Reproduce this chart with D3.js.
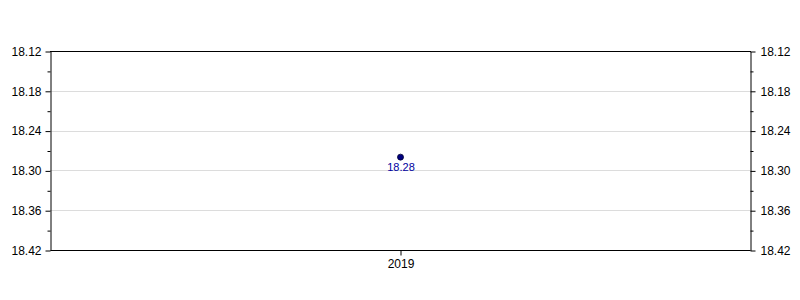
<!DOCTYPE html>
<html>
<head>
<meta charset="utf-8">
<script src="https://cdn.jsdelivr.net/npm/d3@7"></script>
<style>
  body { margin: 0; background: #fff; }
  svg text { font-family: "Liberation Sans", Arial, sans-serif; }
</style>
</head>
<body>
<div id="chart"></div>
<script>
const years = ["2019"];
const values = [18.28];
const yTicks = [18.12, 18.18, 18.24, 18.30, 18.36, 18.42];
const yMinorTicks = [18.15, 18.21, 18.27, 18.33, 18.39];

const W = 800, H = 300;
const m = { top: 51, right: 50, bottom: 50, left: 50 };

const svg = d3.select("#chart").append("svg").attr("width", W).attr("height", H);

const x = d3.scalePoint().domain(years).range([m.left, W - m.right]).padding(0.5);
const y = d3.scaleLinear().domain([18.12, 18.42]).range([m.top, H - m.bottom]);

// grid
svg.append("g").selectAll("line").data(yTicks.slice(1, -1)).enter().append("line")
  .attr("x1", m.left).attr("x2", W - m.right)
  .attr("y1", (d) => Math.round(y(d)) + 0.5).attr("y2", (d) => Math.round(y(d)) + 0.5)
  .attr("stroke", "#dcdcdc").attr("stroke-width", 1);

function styleAxis(g) {
  g.selectAll("path, line").attr("stroke", "#000");
  g.selectAll("text").attr("font-size", 12).attr("fill", "#000");
}

const fmt = d3.format(".2f");
// left axis
svg.append("g").attr("transform", `translate(${m.left + 0.5},0.5)`)
  .call(d3.axisLeft(y).tickValues(yTicks).tickFormat(fmt).tickSize(5).tickSizeOuter(0).tickPadding(4))
  .call(styleAxis);
svg.append("g").attr("transform", `translate(${m.left + 0.5},0.5)`)
  .call(d3.axisLeft(y).tickValues(yMinorTicks).tickFormat("").tickSize(3).tickSizeOuter(0))
  .call((g) => g.select(".domain").remove()).call(styleAxis);
// right axis
svg.append("g").attr("transform", `translate(${W - m.right + 0.5},0.5)`)
  .call(d3.axisRight(y).tickValues(yTicks).tickFormat(fmt).tickSize(5).tickSizeOuter(0).tickPadding(5))
  .call(styleAxis);
svg.append("g").attr("transform", `translate(${W - m.right + 0.5},0.5)`)
  .call(d3.axisRight(y).tickValues(yMinorTicks).tickFormat("").tickSize(3).tickSizeOuter(0))
  .call((g) => g.select(".domain").remove()).call(styleAxis);
// bottom axis
svg.append("g").attr("transform", `translate(0.5,${H - m.bottom + 0.5})`)
  .call(d3.axisBottom(x).tickSize(5).tickSizeOuter(0).tickPadding(4))
  .call((g) => g.select(".domain").attr("d", `M${m.left},0H${W - m.right}`))
  .call(styleAxis);
// top border
svg.append("line").attr("x1", m.left).attr("x2", W - m.right + 1)
  .attr("y1", m.top + 0.5).attr("y2", m.top + 0.5).attr("stroke", "#000");

// points
svg.append("g").selectAll("circle").data(values).enter().append("circle")
  .attr("cx", (d, i) => x(years[i]) + 0.5).attr("cy", (d) => y(d))
  .attr("r", 3).attr("fill", "#000080").attr("stroke", "#000033").attr("stroke-width", 0.8);
svg.append("g").selectAll("text").data(values).enter().append("text")
  .attr("x", (d, i) => x(years[i]) + 1).attr("y", (d) => y(d) + 14)
  .attr("text-anchor", "middle").attr("font-size", 11).attr("fill", "#0000a0")
  .text((d) => fmt(d));
</script>
</body>
</html>
